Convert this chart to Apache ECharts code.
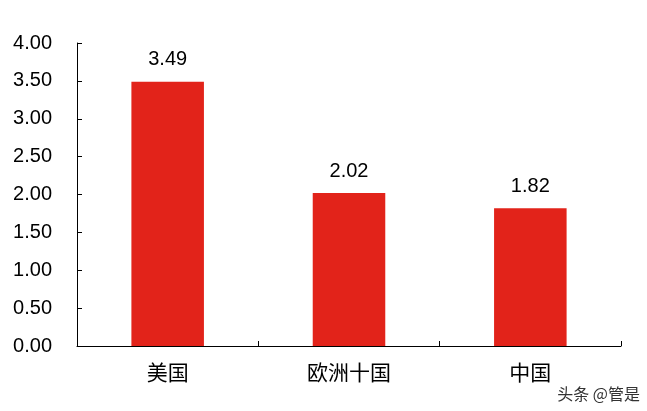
<!DOCTYPE html>
<html>
<head>
<meta charset="utf-8">
<script src="https://cdn.jsdelivr.net/npm/echarts@6/dist/echarts.min.js"></script>
<style>
  html, body { margin: 0; padding: 0; background: #fff; }
  #main { width: 647px; height: 411px; }
</style>
</head>
<body>
<div id="main"></div>
<script>
// data
var categories = ['美国', '欧洲十国', '中国'];
var values = [3.49, 2.02, 1.82];
var yTicks = [0, 0.5, 1, 1.5, 2, 2.5, 3, 3.5, 4];

var myChart = echarts.init(document.getElementById('main'));
var option = {
	animation: false,
	grid: { left: 77, right: 26, top: 43, bottom: 65 },
	xAxis: {
		type: 'category',
		data: categories,
		axisLine: { lineStyle: { color: '#000', width: 1 } },
		axisTick: { show: true, inside: true, length: 5, lineStyle: { color: '#000' } },
		axisLabel: {
			color: '#000',
			fontSize: 21,
			fontFamily: 'Noto Sans CJK SC',
			margin: 16
		}
	},
	yAxis: {
		type: 'value',
		min: yTicks[0],
		max: yTicks[yTicks.length - 1],
		interval: yTicks[1] - yTicks[0],
		splitLine: { show: false },
		axisLine: { show: true, lineStyle: { color: '#000', width: 1 } },
		axisTick: { show: true, inside: true, length: 5, lineStyle: { color: '#000' } },
		axisLabel: {
			color: '#000',
			fontSize: 20,
			fontFamily: 'Liberation Sans',
			margin: 25,
			formatter: function (v) { return v.toFixed(2); }
		}
	},
	series: [{
		type: 'bar',
		data: values,
		barWidth: '40%',
		itemStyle: { color: '#E2231A' },
		label: {
			show: true,
			position: 'top',
			distance: 12,
			color: '#000',
			fontSize: 20,
			fontFamily: 'Liberation Sans',
			formatter: function (p) { return p.value.toFixed(2); }
		}
	}],
	graphic: [{
		type: 'text',
		right: 7,
		bottom: 9,
		style: {
			text: '头条 @管是',
			fill: '#333',
			font: '16px "Noto Sans CJK SC"'
		}
	}]
};
myChart.setOption(option);
</script>
</body>
</html>
